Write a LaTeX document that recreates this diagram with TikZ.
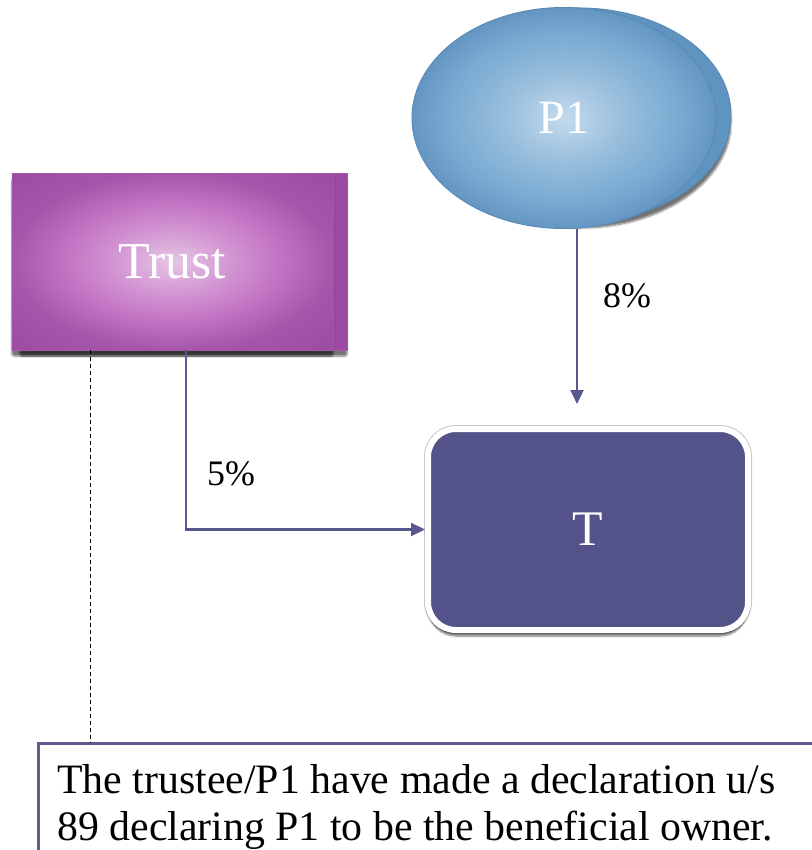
\documentclass[tikz,border=0pt]{standalone}
\usepackage{fontspec}
\setmainfont{Liberation Serif}
\usetikzlibrary{shadows,shadows.blur,arrows.meta,shapes.geometric}

\definecolor{trustA}{HTML}{E4C6E4}
\definecolor{trustB}{HTML}{D396D3}
\definecolor{trustC}{HTML}{C272C2}
\definecolor{trustD}{HTML}{A656AA}
\definecolor{trustE}{HTML}{9A4AA0}
\definecolor{pA}{HTML}{C4DAEC}
\definecolor{pB}{HTML}{98BEDC}
\definecolor{pC}{HTML}{78AAD2}
\definecolor{pD}{HTML}{6496C2}
\definecolor{pback}{HTML}{6094C0}
\definecolor{pedge}{HTML}{5A8AB6}
\definecolor{tfill}{HTML}{53538A}
\definecolor{linkc}{HTML}{58588F}
\definecolor{notec}{HTML}{5C5C91}

\pgfdeclareradialshading{trustshade}{\pgfpointorigin}{%
  color(0bp)=(trustA); color(9bp)=(trustB); color(17bp)=(trustC);
  color(25bp)=(trustD); color(36bp)=(trustE); color(50bp)=(trustE)}
\pgfdeclareradialshading{pshade}{\pgfpointorigin}{%
  color(0bp)=(pA); color(10bp)=(pB); color(19bp)=(pC);
  color(25bp)=(pD); color(50bp)=(pD)}

\begin{document}
\begin{tikzpicture}[x=1bp,y=-1bp,
  dropsh/.style={blur shadow={shadow xshift=0bp, shadow yshift=-6bp, shadow opacity=55, shadow blur steps=6, shadow blur extra rounding=2bp}},
  link/.style={draw=linkc, line width=2.2bp},
  tip/.style={-{Triangle[length=14bp,width=13bp]}},
  pct/.style={font=\fontsize{36}{40}\selectfont, text=black, inner sep=0pt},
  whitetext/.style={text=white, font=\fontsize{50}{54}\selectfont},
  trustbox/.style={rectangle, shade, shading=trustshade, draw=trustD, line width=0.6bp,
    minimum width=321bp, minimum height=177bp, inner sep=0pt, outer sep=0pt},
  trustback/.style={rectangle, fill=trustE, draw=trustD, line width=0.6bp,
    minimum width=327bp, minimum height=177bp, inner sep=0pt, outer sep=0pt},
  pbox/.style={ellipse, shade, shading=pshade, draw=pedge, line width=1bp,
    minimum width=304bp, minimum height=221bp, inner sep=0pt, outer sep=0pt},
  pbackbox/.style={ellipse, fill=pback, draw=pedge, line width=1bp,
    minimum width=304bp, minimum height=214bp, inner sep=0pt, outer sep=0pt},
  tboxstyle/.style={rectangle, rounded corners=28bp, fill=tfill, draw=white, line width=6bp,
    preaction={draw=black!22, line width=8bp},
    minimum width=320bp, minimum height=201bp, inner sep=0pt},
  notebox/.style={rectangle, draw=notec, fill=white, line width=3bp, outer sep=0pt,
    minimum width=820bp, minimum height=150bp, inner sep=0pt}
]
\useasboundingbox (0,0) rectangle (812,850);
\clip (0,0) rectangle (812,850);

% Trust: stacked pair of shaded boxes
\node[trustback, dropsh] (trustb) at (183.5,261.5) {};
\node[trustbox, dropsh, whitetext, font=\fontsize{52}{56}\selectfont] (trust) at (172.5,261.5) {Trust};

% P1: stacked pair of ellipses
\node[pbackbox, dropsh] (p1b) at (579,115) {};
\node[pbox, whitetext, font=\fontsize{48}{52}\selectfont] (p1) at (564,118) {P1};

% T: rounded box with white rim
\node[tboxstyle, dropsh, whitetext] (tbox) at (588,529.5) {T};

% declaration box
\node[notebox, anchor=north west] (note) at (38,743) {};
\node[anchor=north west, align=left, inner sep=0pt, font=\fontsize{42}{44}\selectfont]
  (notetext) at ([xshift=19bp, yshift=-21bp]note.north west)
  {The trustee/P1 have made a declaration u/s\\[3bp]89 declaring P1 to be the beneficial owner.};

% ownership connectors
\coordinate (tin) at (577,404);
\draw[link, tip] (p1.south -| tin) -- (tin);
\draw[link, tip] ([xshift=13.5bp]trust.south) |- (tbox.west);
\node[pct] (l8) at (627,296) {8\%};
\node[pct] (l5) at (231,474) {5\%};

% link from trust to declaration
\draw[black, line width=1bp, dash pattern=on 4bp off 3bp]
  ([xshift=-82.5bp]trust.south) -- ([xshift=-82.5bp]trust.south |- note.north);
\end{tikzpicture}
\end{document}
